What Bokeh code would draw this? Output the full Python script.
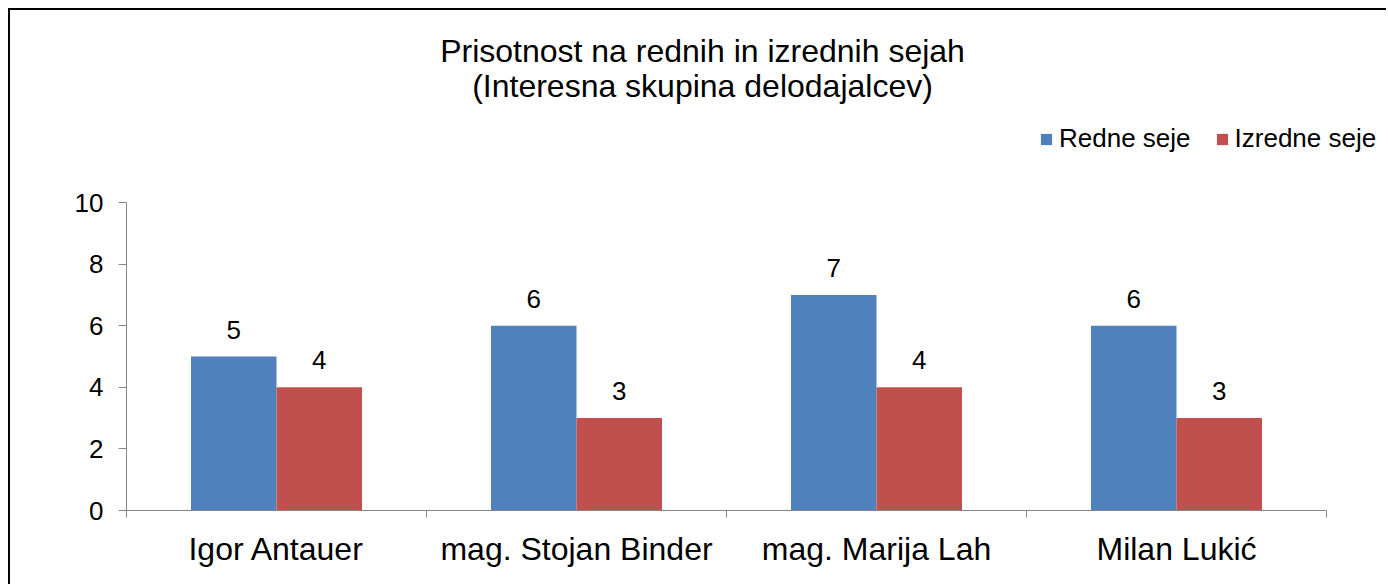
from bokeh.plotting import figure
from bokeh.models import (ColumnDataSource, Range1d, LinearAxis, FixedTicker, LabelSet,
                          Label, Legend, LegendItem)
from bokeh.core.properties import value
from bokeh.transform import dodge
from bokeh.embed import file_html
from bokeh.resources import INLINE

# ---- data ----
categories = ["Igor Antauer", "mag. Stojan Binder", "mag. Marija Lah", "Milan Lukić"]
series_names = ["Redne seje", "Izredne seje"]
redne = [5, 6, 7, 6]
izredne = [4, 3, 4, 3]
y_ticks = [0, 2, 4, 6, 8, 10]
title_lines = ["Prisotnost na rednih in izrednih sejah", "(Interesna skupina delodajalcev)"]

BLUE = "#4F81BD"
RED = "#C0504D"
GRAY = "#868686"
FONT = "Liberation Sans"

# layout geometry (pixels)
FRAME_LEFT = 116          # inside canvas
FRAME_BOTTOM_PAD = 76
CANVAS_W, CANVAS_H = 1378, 576
FRAME_W = CANVAS_W - FRAME_LEFT
FRAME_H = CANVAS_H - FRAME_BOTTOM_PAD
PX_PER_CAT = 300.0
PX_PER_UNIT = 30.8

n = len(categories)
Y_MAX = max(y_ticks)
centers = [i + 0.5 for i in range(n)]
src = ColumnDataSource(dict(
    x=centers,
    redne=redne,
    izredne=izredne,
    redne_txt=[str(v) for v in redne],
    izredne_txt=[str(v) for v in izredne],
))

BAR_W = 0.285

p = figure(width=CANVAS_W, height=CANVAS_H, output_backend="svg", toolbar_location=None,
           x_range=Range1d(0, FRAME_W / PX_PER_CAT), y_range=Range1d(0, FRAME_H / PX_PER_UNIT),
           x_axis_type=None, y_axis_type=None,
           min_border_left=FRAME_LEFT, min_border_right=0, min_border_top=0,
           min_border_bottom=FRAME_BOTTOM_PAD)
p.styles = {"border-left": "2px solid black", "border-top": "2px solid black",
            "margin-left": "8px", "margin-top": "8px"}
p.outline_line_color = None
p.background_fill_color = "white"
p.border_fill_color = "white"

# axes
yaxis = LinearAxis(ticker=FixedTicker(ticks=y_ticks, minor_ticks=[]), bounds=(0, Y_MAX))
yaxis.axis_line_color = GRAY
yaxis.major_tick_line_color = GRAY
yaxis.major_tick_out = 8
yaxis.major_tick_in = 0
yaxis.minor_tick_line_color = None
yaxis.major_label_text_font = FONT
yaxis.major_label_text_font_size = "26px"
yaxis.major_label_text_color = "black"
yaxis.major_label_standoff = 15
p.add_layout(yaxis, "left")

xaxis = LinearAxis(ticker=FixedTicker(ticks=centers, minor_ticks=list(range(n + 1))),
                   bounds=(0, n))
xaxis.major_label_overrides = {c: name for c, name in zip(centers, categories)}
xaxis.axis_line_color = GRAY
xaxis.major_tick_line_color = None
xaxis.minor_tick_line_color = GRAY
xaxis.minor_tick_out = 7
xaxis.minor_tick_in = 0
xaxis.major_label_text_font = FONT
xaxis.major_label_text_font_size = "32px"
xaxis.major_label_text_color = "black"
xaxis.major_label_standoff = 13
p.add_layout(xaxis, "below")

p.ygrid.ticker = FixedTicker(ticks=y_ticks)
p.ygrid.bounds = (0, Y_MAX)
p.ygrid.cross_bounds = (0, n)
p.ygrid.grid_line_color = GRAY
p.xgrid.grid_line_color = None

# bars
r1 = p.vbar(x=dodge("x", -BAR_W / 2, range=p.x_range), top="redne", width=BAR_W,
            source=src, fill_color=BLUE, line_color=None)
r2 = p.vbar(x=dodge("x", BAR_W / 2, range=p.x_range), top="izredne", width=BAR_W,
            source=src, fill_color=RED, line_color=None)

# data labels
for col, txt, off in (("redne", "redne_txt", -BAR_W / 2), ("izredne", "izredne_txt", BAR_W / 2)):
    p.add_layout(LabelSet(x=dodge("x", off, range=p.x_range), y=col, text=txt, source=src,
                          y_offset=18, text_align="center", text_baseline="alphabetic",
                          text_font=value(FONT), text_font_size=value("26px"),
                          text_color="black"))

# title
for line, y in zip(title_lines, (460, 425)):
    p.add_layout(Label(x=576, y=y, x_units="screen", y_units="screen", text=line,
                       text_align="center", text_baseline="alphabetic",
                       text_font=FONT, text_font_size="32px", text_color="black"))

# legend
legend = Legend(items=[LegendItem(label=series_names[0], renderers=[r1]),
                       LegendItem(label=series_names[1], renderers=[r2])],
                location=(913, 356), orientation="horizontal")
legend.glyph_width = 14
legend.glyph_height = 14
legend.label_standoff = 6
legend.spacing = 24
legend.padding = 0
legend.margin = 0
legend.border_line_color = None
legend.background_fill_alpha = 0
legend.label_text_font = FONT
legend.label_text_font_size = "26px"
legend.label_text_color = "black"
p.add_layout(legend, "center")

open("out.html", "w").write(file_html(p, INLINE))
